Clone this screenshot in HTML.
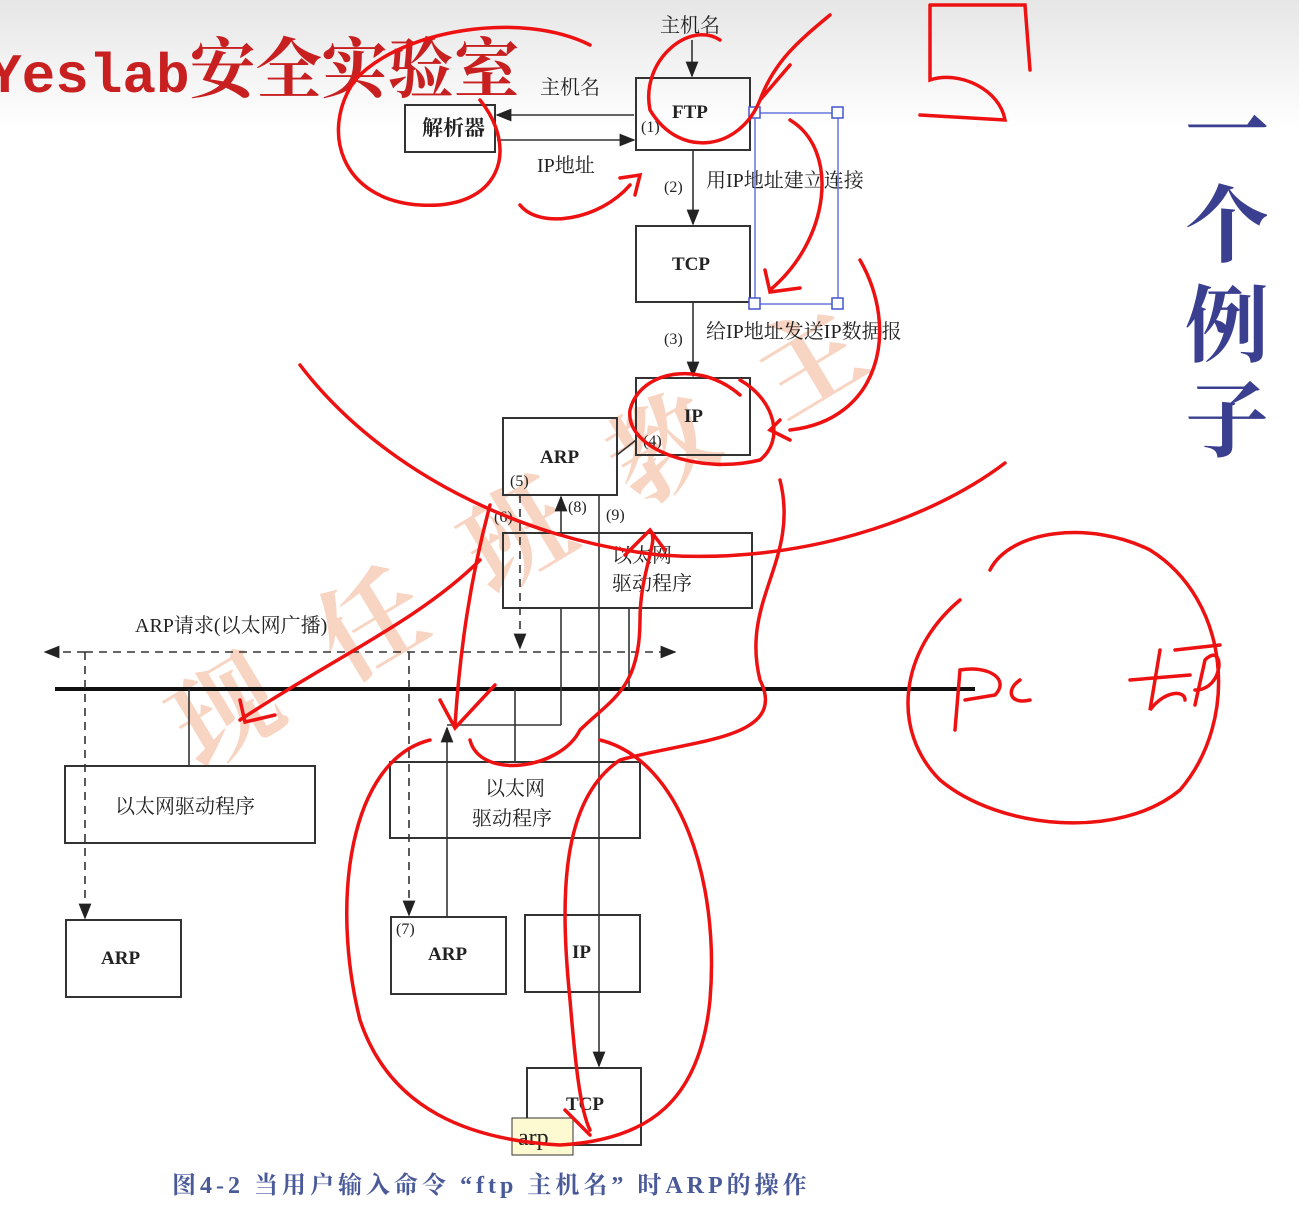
<!DOCTYPE html>
<html><head><meta charset="utf-8"><style>
html,body{margin:0;padding:0;background:#fff;}
svg{display:block;}
text{font-family:"Liberation Serif","Noto Serif CJK SC",serif;fill:#222;}
</style></head><body>
<svg width="1299" height="1210" viewBox="0 0 1299 1210" xmlns="http://www.w3.org/2000/svg">
<defs>
<linearGradient id="g" x1="0" y1="0" x2="0" y2="1"><stop offset="0" stop-color="#e6e6e6"/><stop offset="1" stop-color="#ffffff"/></linearGradient>
<marker id="a" markerWidth="10" markerHeight="10" refX="9" refY="5" orient="auto"><path d="M0,1 L10,5 L0,9 z" fill="#222"/></marker>
</defs>
<rect width="1299" height="130" fill="url(#g)"/>
<text x="-12" y="92" font-size="56" font-weight="bold" style="fill:#c82020"><tspan font-family="Liberation Mono,monospace">Yeslab</tspan><tspan font-size="66" font-family="Noto Serif CJK SC,serif">安全实验室</tspan></text>
<g font-size="84" font-weight="bold" font-family="Noto Sans CJK SC,sans-serif">
<text x="1185" y="160" style="fill:#3a3f8f">一</text>
<text x="1185" y="255" style="fill:#3a3f8f">个</text>
<text x="1185" y="355" style="fill:#3a3f8f">例</text>
<text x="1185" y="450" style="fill:#3a3f8f">子</text>
</g>
<text x="0" y="0" font-size="105" letter-spacing="65" transform="translate(200,770) rotate(-31)" style="fill:#f4b89a;opacity:.6" font-weight="bold" font-family="Noto Sans CJK SC,sans-serif">现任班教主</text>
<g fill="none" stroke="#333" stroke-width="2">
<rect x="405" y="105" width="90" height="47"/>
<rect x="636" y="78" width="114" height="72"/>
<rect x="636" y="226" width="114" height="76"/>
<rect x="636" y="378" width="114" height="77"/>
<rect x="503" y="418" width="114" height="77"/>
<rect x="503" y="533" width="249" height="75"/>
<rect x="65" y="766" width="250" height="77"/>
<rect x="390" y="762" width="250" height="76"/>
<rect x="66" y="920" width="115" height="77"/>
<rect x="391" y="917" width="115" height="77"/>
<rect x="525" y="915" width="115" height="77"/>
<rect x="527" y="1068" width="114" height="77"/>
</g>
<line x1="55" y1="689" x2="975" y2="689" stroke="#111" stroke-width="4"/>
<g stroke="#333" stroke-width="1.6" fill="none">
<line x1="692" y1="40" x2="692" y2="76" marker-end="url(#a)"/>
<line x1="634" y1="115" x2="497" y2="115" marker-end="url(#a)"/>
<line x1="497" y1="140" x2="634" y2="140" marker-end="url(#a)"/>
<line x1="693" y1="150" x2="693" y2="224" marker-end="url(#a)"/>
<line x1="693" y1="302" x2="693" y2="376" marker-end="url(#a)"/>
<line x1="636" y1="440" x2="617" y2="455"/>
<line x1="561" y1="533" x2="561" y2="497" marker-end="url(#a)"/>
<line x1="599" y1="495" x2="599" y2="1066" marker-end="url(#a)"/>
<line x1="629" y1="608" x2="629" y2="689"/>
<line x1="189" y1="689" x2="189" y2="766"/>
<line x1="515" y1="689" x2="515" y2="762"/>
<line x1="447" y1="917" x2="447" y2="728" marker-end="url(#a)"/>
<line x1="447" y1="725" x2="561" y2="725"/>
<line x1="561" y1="725" x2="561" y2="608"/>
</g>
<g stroke="#333" stroke-width="1.6" fill="none" stroke-dasharray="8,6">
<line x1="520" y1="495" x2="520" y2="648" marker-end="url(#a)"/>
<line x1="85" y1="652" x2="675" y2="652" marker-end="url(#a)"/>
<line x1="85" y1="652" x2="45" y2="652" marker-end="url(#a)"/>
<line x1="85" y1="652" x2="85" y2="918" marker-end="url(#a)"/>
<line x1="409" y1="652" x2="409" y2="915" marker-end="url(#a)"/>
</g>
<g font-size="21" font-weight="bold">
<text x="422" y="135">解析器</text>
<text x="672" y="118" font-size="19">FTP</text>
<text x="672" y="270" font-size="19">TCP</text>
<text x="684" y="422" font-size="19">IP</text>
<text x="540" y="463" font-size="19">ARP</text>
<text x="101" y="964" font-size="19">ARP</text>
<text x="428" y="960" font-size="19">ARP</text>
<text x="572" y="958" font-size="19">IP</text>
<text x="566" y="1110" font-size="19">TCP</text>
</g>
<g font-size="20">
<text x="660" y="32">主机名</text>
<text x="540" y="94">主机名</text>
<text x="537" y="172">IP地址</text>
<text x="706" y="187">用IP地址建立连接</text>
<text x="706" y="338">给IP地址发送IP数据报</text>
<text x="135" y="632">ARP请求(以太网广播)</text>
<text x="612" y="562">以太网</text>
<text x="612" y="590">驱动程序</text>
<text x="115" y="813">以太网驱动程序</text>
<text x="485" y="795">以太网</text>
<text x="472" y="825">驱动程序</text>
</g>
<g font-size="16">
<text x="641" y="132">(1)</text>
<text x="664" y="192">(2)</text>
<text x="664" y="344">(3)</text>
<text x="643" y="446">(4)</text>
<text x="510" y="486">(5)</text>
<text x="494" y="522">(6)</text>
<text x="568" y="512">(8)</text>
<text x="606" y="520">(9)</text>
<text x="396" y="934">(7)</text>
</g>
<text x="172" y="1193" font-size="24" font-weight="bold" letter-spacing="4" style="fill:#4a5a99">图4-2  当用户输入命令 “ftp 主机名” 时ARP的操作</text>
<rect x="512" y="1118" width="61" height="37" fill="#fdf9d0" stroke="#333"/>
<text x="518" y="1145" font-family="Liberation Mono,monospace" font-size="24">arp</text>
<rect x="755" y="113" width="83" height="191" fill="none" stroke="#6677dd" stroke-width="1.5"/>
<g fill="#fff" stroke="#4455cc" stroke-width="1.5"><rect x="749" y="107" width="11" height="11"/><rect x="832" y="107" width="11" height="11"/><rect x="749" y="298" width="11" height="11"/><rect x="832" y="298" width="11" height="11"/></g>
<g fill="none" stroke="#ee1111" stroke-width="3.5" stroke-linecap="round">
<path d="M590,45 C520,10 400,30 355,80 C320,130 340,200 420,205 C500,210 520,150 480,100"/>
<path d="M520,205 C540,230 600,220 630,185 M620,178 L640,175 L635,195"/>
<path d="M720,40 C690,20 640,60 650,110 C680,160 740,150 760,100 C775,60 800,40 830,15 M760,100 L790,65"/>
<path d="M930,5 L930,80 C960,70 1000,90 1005,120 L920,115 M930,5 L1025,5 L1030,70"/>
<path d="M790,120 C840,150 830,240 770,290 M765,270 L770,292 L800,288"/>
<path d="M860,260 C900,330 880,420 790,430 M780,420 L770,430 L790,440"/>
<path d="M740,395 C700,360 640,370 630,410 C625,450 700,475 760,460 C785,440 775,400 740,380"/>
<path d="M300,365 C380,470 520,540 660,555 C800,565 930,520 1005,463"/>
<path d="M480,560 C420,620 330,660 240,720 M240,700 L245,722 L275,715"/>
<path d="M490,505 C470,580 460,650 455,725 M440,700 L455,728 L495,685"/>
<path d="M470,740 C480,780 560,770 580,730 C610,700 640,690 640,620 C640,570 660,540 650,530 M625,555 L650,530 L665,550"/>
<path d="M780,480 C800,560 740,600 760,680 C790,740 690,740 620,760 C560,800 560,900 570,1000 C575,1060 580,1110 590,1130 M565,1110 L590,1135"/>
<path d="M430,740 C350,760 330,900 360,1020 C390,1110 470,1140 560,1145 C650,1140 700,1100 710,1000 C720,880 680,760 600,740"/>
<path d="M990,570 C1010,530 1090,520 1150,550 C1230,600 1240,720 1180,790 C1120,840 1000,830 940,780 C890,730 900,650 960,600"/>
<path d="M955,730 L960,670 C990,665 1010,680 995,695 L965,700 M1020,680 C1005,690 1010,705 1030,700"/>
<path d="M1130,680 L1190,675 M1160,650 L1150,710 C1165,690 1185,690 1185,700 M1195,705 L1205,660 C1225,640 1225,690 1195,690 M1175,650 L1220,645"/>
</g>
</svg>
</body></html>
